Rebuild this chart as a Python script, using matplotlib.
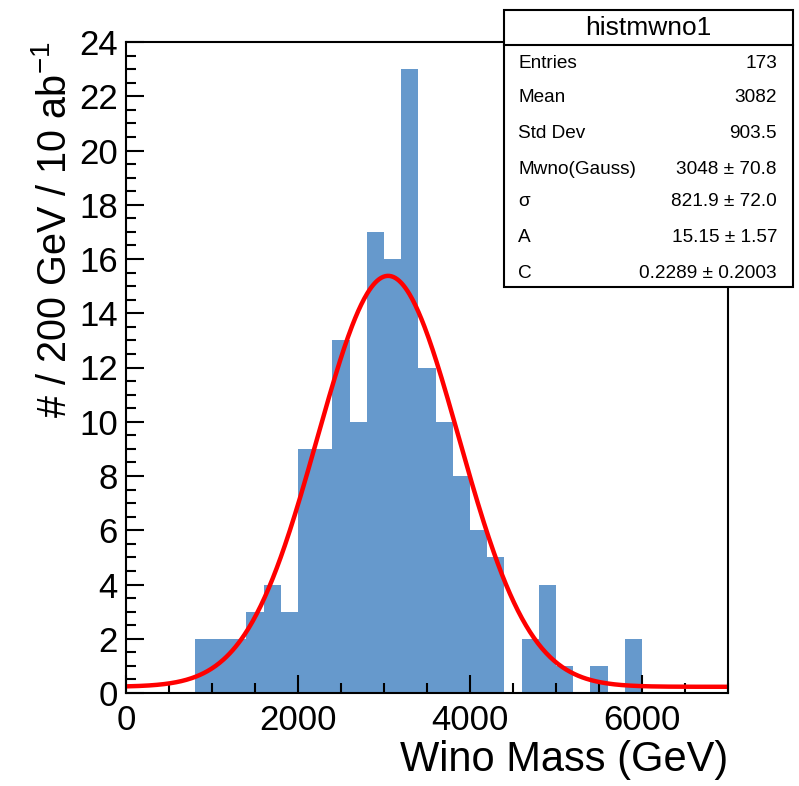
import numpy as np
import matplotlib
matplotlib.use('Agg')
import matplotlib.pyplot as plt
from matplotlib.patches import Rectangle
from matplotlib.lines import Line2D
from matplotlib.ticker import MultipleLocator

plt.rcParams['font.family'] = ['Liberation Sans', 'DejaVu Sans']
plt.rcParams['mathtext.fontset'] = 'custom'
plt.rcParams['mathtext.rm'] = 'Liberation Sans'
plt.rcParams['mathtext.default'] = 'regular'

# histogram: 200 GeV bins, edges in GeV
bin_edges = np.arange(0, 7200, 200)
counts = [0, 0, 0, 0, 2, 2, 2, 3, 4, 3,
          9, 9, 13, 10, 17, 16, 23, 12, 10, 8,
          6, 5, 0, 2, 4, 1, 0, 1, 0, 2,
          0, 0, 0, 0, 0]

# gaussian + constant fit parameters (from stats box)
fit_mean, fit_sigma, fit_amp, fit_const = 3048.0, 821.9, 15.15, 0.2289

stats_title = 'histmwno1'
stats_rows = [('Entries', '173'),
              ('Mean', '3082'),
              ('Std Dev', '903.5'),
              ('Mwno(Gauss)', '3048 ± 70.8'),
              ('σ', '821.9 ± 72.0'),
              ('A', '15.15 ± 1.57'),
              ('C', '0.2289 ± 0.2003')]

W, H = 799, 786
fig = plt.figure(figsize=(W / 100, H / 100), dpi=100)
ax = fig.add_axes([126 / W, 1 - 693 / H, 602 / W, 651 / H])

# filled histogram, no lines between neighbouring bins
ax.stairs(counts, bin_edges, fill=True, color='#6699cc', lw=0)

xs = np.linspace(0, 7000, 600)
ys = fit_amp * np.exp(-0.5 * ((xs - fit_mean) / fit_sigma) ** 2) + fit_const
ax.plot(xs, ys, color='#ff0000', lw=3.2, solid_capstyle='butt')

ax.set_xlim(0, 7000)
ax.set_ylim(0, 24)
ax.xaxis.set_major_locator(MultipleLocator(2000))
ax.xaxis.set_minor_locator(MultipleLocator(500))
ax.yaxis.set_major_locator(MultipleLocator(2))
ax.yaxis.set_minor_locator(MultipleLocator(0.5))
ax.tick_params(which='both', direction='in', top=False, right=False,
               width=1.5, labelsize=25)
ax.tick_params(which='major', length=13)
ax.tick_params(which='minor', length=7)
ax.tick_params(axis='x', pad=8)
ax.tick_params(axis='y', pad=6)
for sp in ax.spines.values():
    sp.set_linewidth(1.5)

ax.set_xlabel('Wino Mass (GeV)', fontsize=30, loc='right')
ax.xaxis.set_label_coords(1.0, -0.072)
ax.set_ylabel('# / 200 GeV / 10 ab$^{-1}$', fontsize=28.5, loc='top')
ax.yaxis.set_label_coords(-0.086, 1.0)

# stats box
bx0, bx1, by0, by1, bsep = 504, 793, 10, 287, 45
fig.patches.append(Rectangle((bx0 / W, 1 - by1 / H), (bx1 - bx0) / W,
                             (by1 - by0) / H, transform=fig.transFigure,
                             facecolor='white', edgecolor='black', lw=1.5,
                             zorder=5))
fig.lines.append(Line2D([bx0 / W, bx1 / W], [1 - bsep / H, 1 - bsep / H],
                        transform=fig.transFigure, color='black', lw=1.5,
                        zorder=6))
fig.text((bx0 + bx1) / 2 / W, 1 - 28 / H, stats_title, ha='center',
         va='center', fontsize=19, zorder=7)
row_y = [63, 98, 133, 169, 202, 238, 273]
for (name, val), y in zip(stats_rows, row_y):
    fig.text(518 / W, 1 - y / H, name, ha='left', va='center',
             fontsize=13.7, zorder=7)
    fig.text(777 / W, 1 - y / H, val, ha='right', va='center',
             fontsize=13.7, zorder=7)

fig.savefig('out.png', dpi=100)
